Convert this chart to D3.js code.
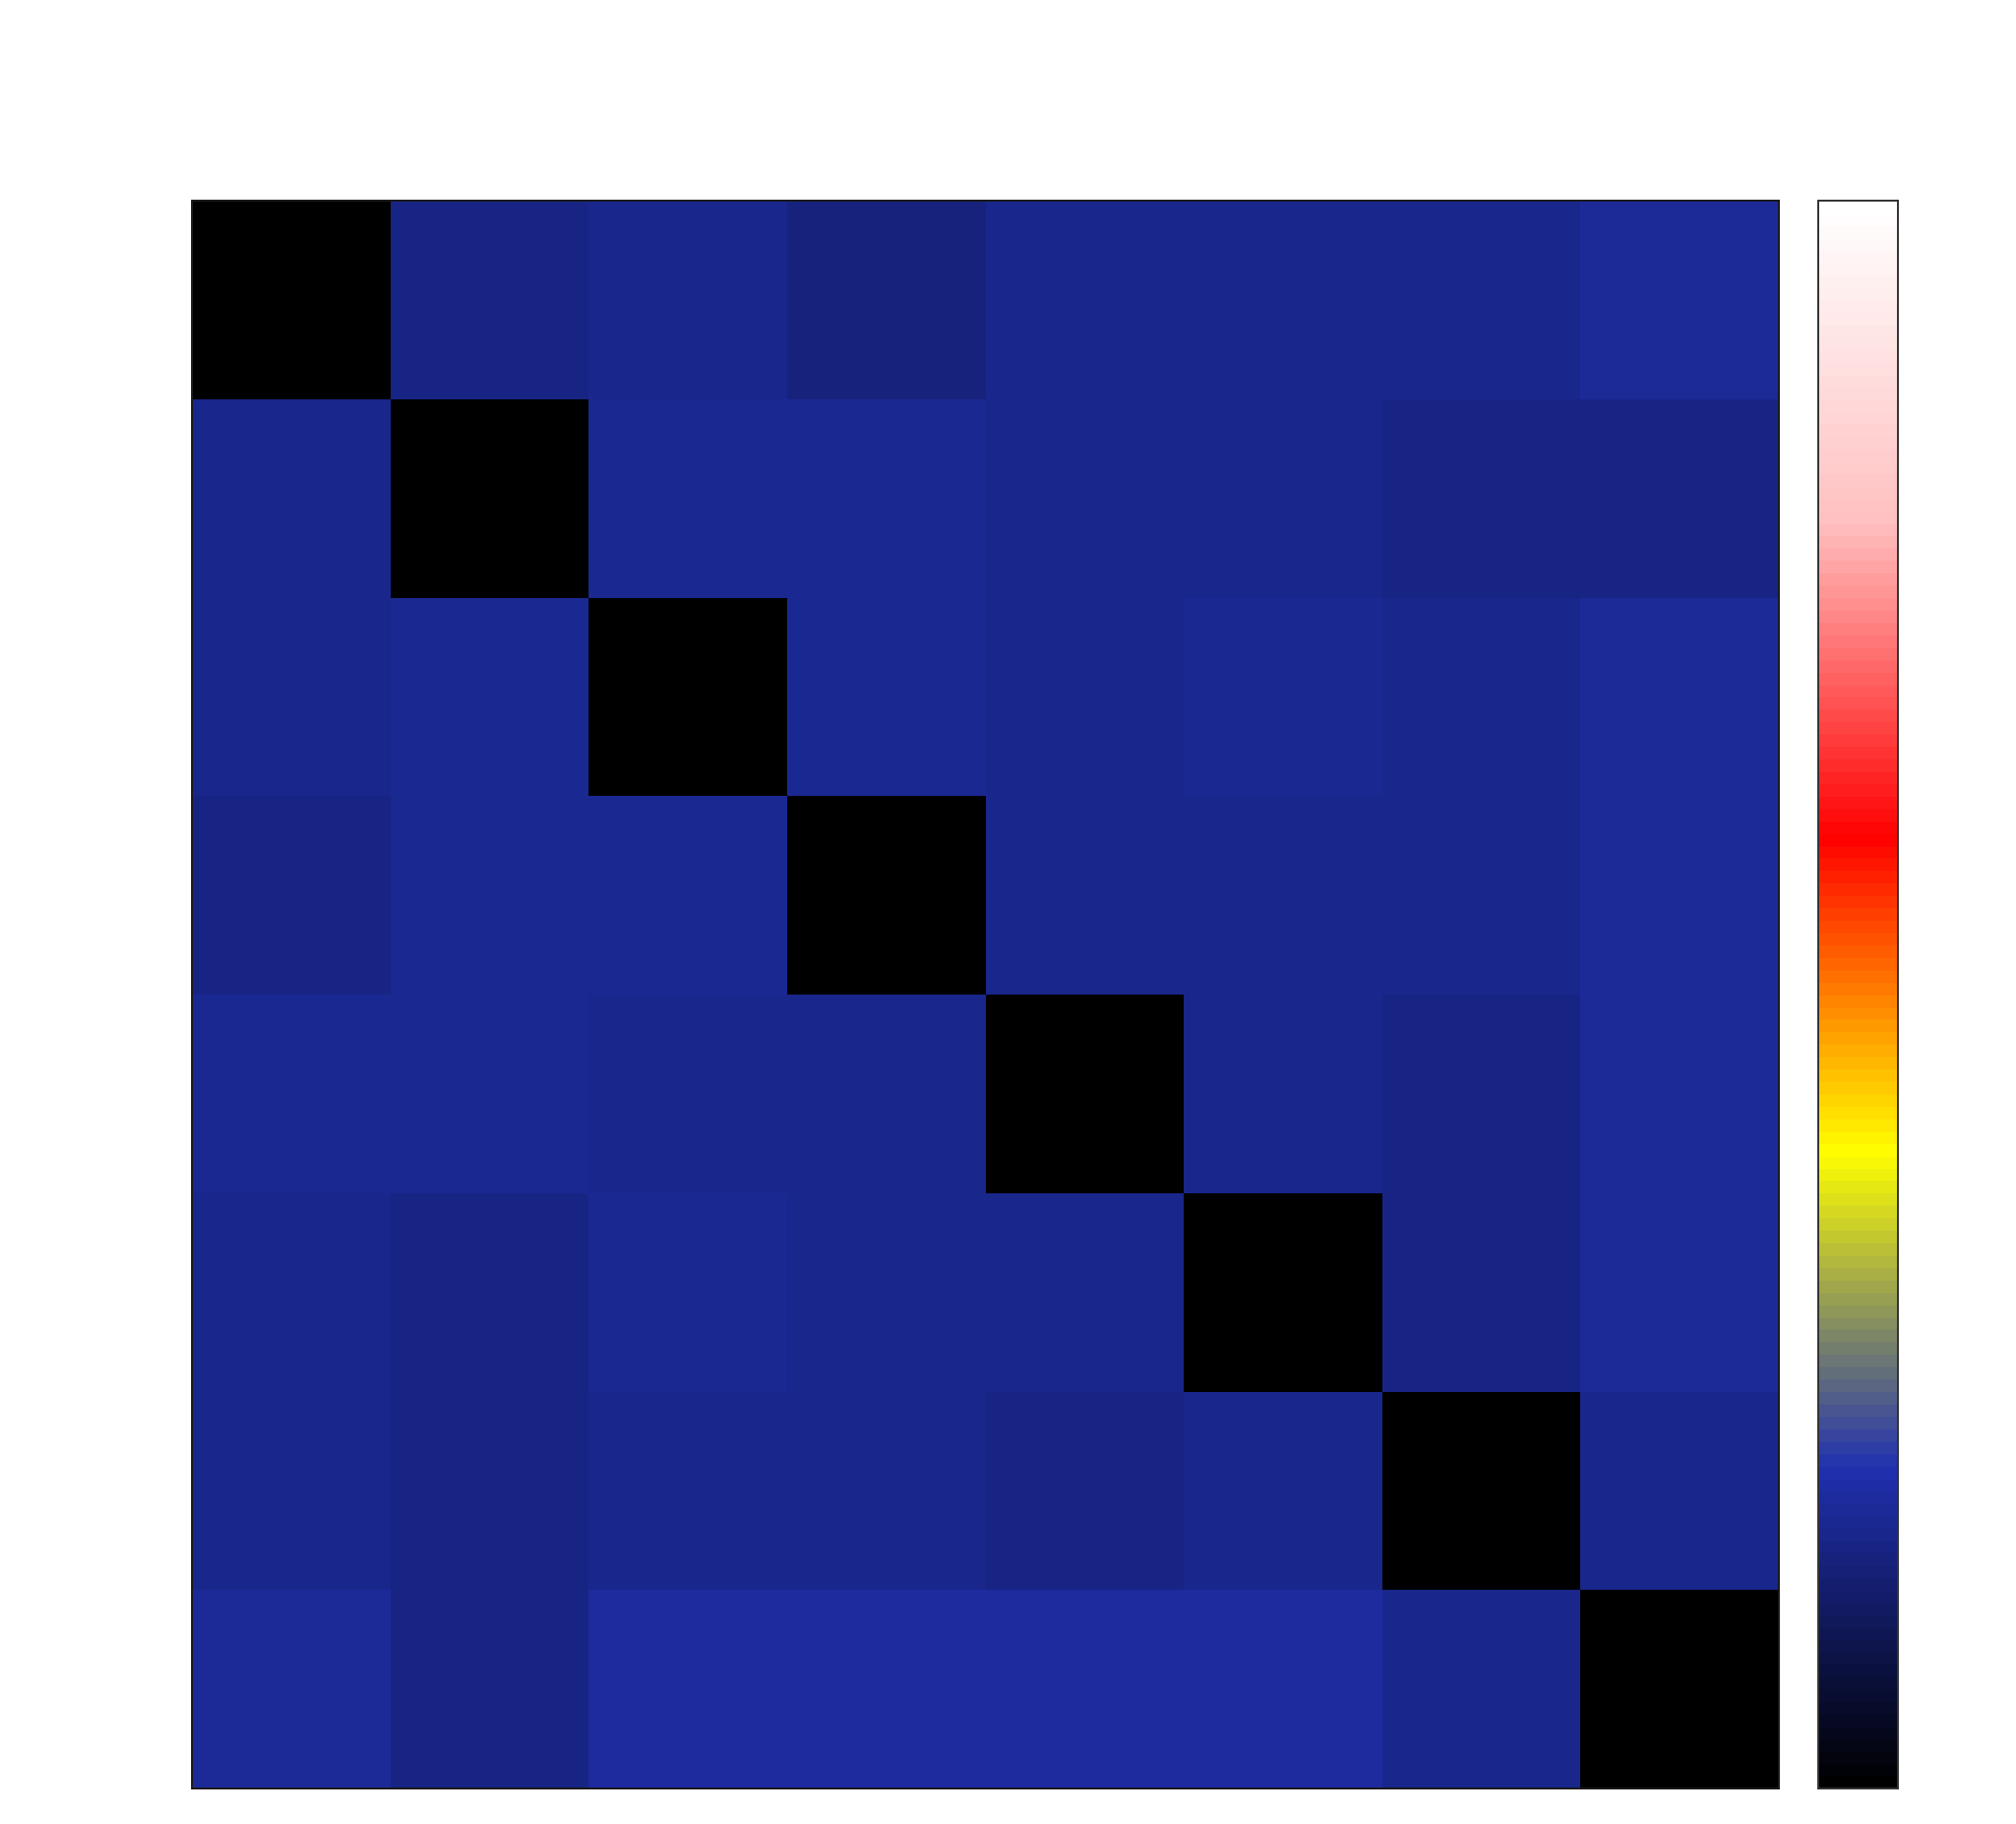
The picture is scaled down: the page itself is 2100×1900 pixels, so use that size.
<!DOCTYPE html>
<html>
<head>
<meta charset="utf-8">
<script src="https://cdn.jsdelivr.net/npm/d3@7"></script>
<style>
  html, body { margin: 0; padding: 0; background: #ffffff; }
  svg { display: block; }
</style>
</head>
<body>
<script>
// ---- data ----
const rowCategories = ["0", "1", "2", "3", "4", "5", "6", "7"];
const colCategories = ["0", "1", "2", "3", "4", "5", "6", "7"];
const row0 = [0.000, 0.153, 0.161, 0.148, 0.160, 0.158, 0.160, 0.176];
const row1 = [0.160, 0.000, 0.168, 0.170, 0.162, 0.160, 0.152, 0.152];
const row2 = [0.161, 0.168, 0.000, 0.170, 0.158, 0.166, 0.158, 0.177];
const row3 = [0.150, 0.170, 0.167, 0.000, 0.160, 0.161, 0.162, 0.176];
const row4 = [0.167, 0.165, 0.161, 0.161, 0.000, 0.163, 0.155, 0.177];
const row5 = [0.163, 0.156, 0.166, 0.161, 0.161, 0.000, 0.155, 0.177];
const row6 = [0.161, 0.154, 0.161, 0.163, 0.152, 0.158, 0.000, 0.160];
const row7 = [0.177, 0.154, 0.180, 0.180, 0.180, 0.180, 0.161, 0.000];
const matrixRows = [row0, row1, row2, row3, row4, row5, row6, row7];
const colorStops = [0, 0.2, 0.4, 0.6, 0.8, 1.0];
const colorStopColors = ["#000000", "#2030b0", "#ffff00", "#ff0000", "#ffc0c0", "#ffffff"];
const nLevels = 128;
const valueDomain = [0, 1];

// ---- layout ----
const W = 2100, H = 1900;
const plot = { left: 200, top: 209, right: 1853, bottom: 1863 };
const cbar = { left: 1894, right: 1977 };

const svg = d3.select("body").append("svg")
  .attr("width", W).attr("height", H);

const cont = d3.scaleLinear().domain(colorStops).range(colorStopColors)
  .interpolate(d3.interpolateRgb).clamp(true);
const palette = d3.range(nLevels).map(i => cont(i / (nLevels - 1)));
const color = d3.scaleQuantize().domain(valueDomain).range(palette);

const x = d3.scaleBand().domain(colCategories).range([plot.left, plot.right]).padding(0);
const y = d3.scaleBand().domain(rowCategories).range([plot.top, plot.bottom]).padding(0);

const cells = [];
matrixRows.forEach((r, i) => r.forEach((v, j) => cells.push({ row: rowCategories[i], col: colCategories[j], v })));

svg.append("g").selectAll("rect").data(cells).join("rect")
  .attr("x", d => x(d.col))
  .attr("y", d => y(d.row))
  .attr("width", x.bandwidth() + 0.5)
  .attr("height", y.bandwidth() + 0.5)
  .attr("fill", d => color(d.v))
  .attr("shape-rendering", "crispEdges");

svg.append("rect")
  .attr("x", plot.left).attr("y", plot.top)
  .attr("width", plot.right - plot.left).attr("height", plot.bottom - plot.top)
  .attr("fill", "none").attr("stroke", "#1a1a1a").attr("stroke-width", 2);

// ---- colorbar ----
const cy = d3.scaleLinear().domain(valueDomain).range([plot.bottom, plot.top]);
const bands = d3.range(nLevels).map(i => ({ lo: i / nLevels, hi: (i + 1) / nLevels, c: palette[i] }));
svg.append("g").selectAll("rect").data(bands).join("rect")
  .attr("x", cbar.left)
  .attr("width", cbar.right - cbar.left)
  .attr("y", d => cy(d.hi))
  .attr("height", d => cy(d.lo) - cy(d.hi) + 0.6)
  .attr("fill", d => d.c)
  .attr("shape-rendering", "crispEdges");

svg.append("rect")
  .attr("x", cbar.left).attr("y", plot.top)
  .attr("width", cbar.right - cbar.left).attr("height", plot.bottom - plot.top)
  .attr("fill", "none").attr("stroke", "#333333").attr("stroke-width", 2);
</script>
</body>
</html>
